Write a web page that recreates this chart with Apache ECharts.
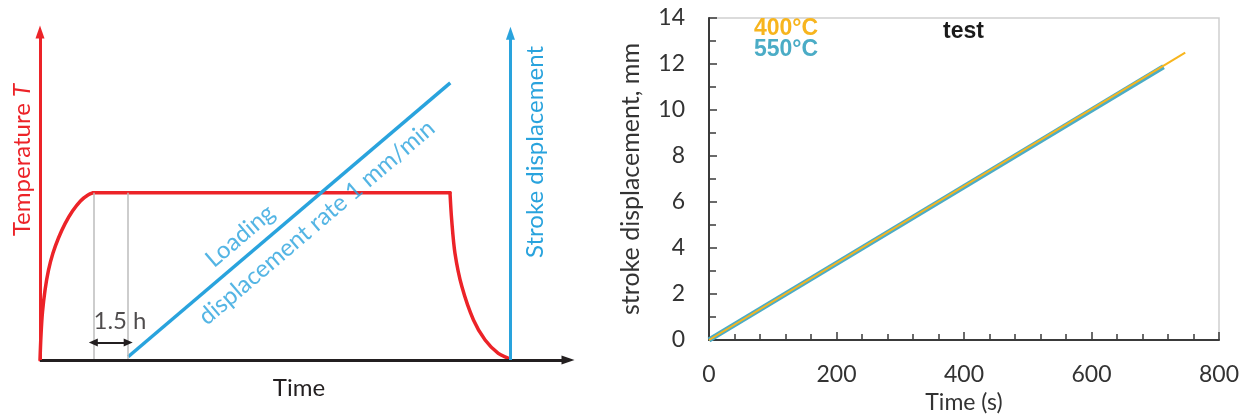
<!DOCTYPE html>
<html><head><meta charset="utf-8">
<script src="https://cdn.jsdelivr.net/npm/echarts@6/dist/echarts.min.js"></script>
<style>html,body{margin:0;padding:0;background:#fff}#c{width:1247px;height:419px}</style>
</head><body><div id="c"></div>
<script>
// ---------- Right chart: measured stroke displacement ----------
const time400 = [0, 747];
const disp400 = [0, 12.49];
const time550 = [0, 713];
const disp550 = [0, 11.88];
const seriesNames = ['400°C', '550°C'];
const xTickMax = 800, xTickStep = 200;
const yTickMax = 14, yTickStep = 2;

// ---------- Left schematic (arbitrary units 0-100) ----------
const heatTime  = [0, 0.19, 0.47, 0.95, 1.61, 2.46, 3.5, 4.73, 6.16, 7.67, 9.09, 10.1];
const heatLevel = [0, 7.6, 14.6, 21.3, 27.4, 32.6, 37.2, 41.5, 45.4, 48.5, 50.3, 51];
const holdTime  = [10.1, 77.65];
const holdLevel = [51, 51];
const coolTime  = [77.65, 77.97, 78.6, 79.9, 82.1, 84.3, 86.8, 88.7, 89.1];
const coolLevel = [51, 42.7, 32.5, 22.4, 12.2, 6.1, 2.0, 0.5, 0];
const loadTime = [16.7, 77.7];
const loadDisp = [1, 84.5];
const holdStart = 10.1, holdEnd = 16.7, plateau = 51, holdArrowY = 5.3;
const strokeAxisX = 89.1;
const annTexts = ['Loading', 'displacement rate 1 mm/min', '1.5 h'];
const annX = [37.9, 52.4, 15.15];
const annY = [37.8, 41.9, 11.7];

const RED = '#EC2328', BLUE = '#29A3DD', DARK = '#231F20';
const ORANGE = '#F7B51E', TEAL = '#4BACC6';

const zip = (a, b) => a.map((v, i) => [v, b[i]]);
const seg = (p, q, color, width, endSym, startSym) => [
  { coord: p, symbol: startSym || 'none', lineStyle: { color, width, type: 'solid' } },
  { coord: q, symbol: endSym || 'none' }
];
const redLine = (name, data, smooth) => ({
  name, type: 'line', xAxisIndex: 0, yAxisIndex: 0, data, showSymbol: false,
  smooth, silent: true, z: 3,
  lineStyle: { color: RED, width: 3.5, cap: 'round', join: 'round' }
});

const chart = echarts.init(document.getElementById('c'), null, { renderer: 'canvas' });
chart.setOption({
  animation: false,
  backgroundColor: '#fff',
  title: {
    text: 'test', left: 943, top: 20, padding: 0,
    textStyle: { fontFamily: 'Liberation Sans', fontWeight: 'bold', fontSize: 23, color: '#1a1a1a' }
  },
  legend: {
    left: 749, top: 17, orient: 'vertical', padding: 0, itemGap: -2,
    itemWidth: 0, itemHeight: 0, icon: 'none', selectedMode: false,
    data: [
      { name: seriesNames[0], textStyle: { color: ORANGE } },
      { name: seriesNames[1], textStyle: { color: TEAL } }
    ],
    textStyle: { fontFamily: 'Liberation Sans', fontWeight: 'bold', fontSize: 23, padding: 0 }
  },
  grid: [
    { left: 40, top: 32, width: 528, height: 328 },
    { left: 709, top: 18, width: 510, height: 322, show: true, borderColor: '#cfcfcf', borderWidth: 1.5 }
  ],
  xAxis: [
    { gridIndex: 0, type: 'value', min: 0, max: 100, show: false },
    {
      gridIndex: 1, type: 'value', min: 0, max: xTickMax, interval: xTickStep,
      axisLine: { show: true, lineStyle: { color: '#3a3a3a', width: 2 } },
      axisTick: { show: true, inside: true, length: 8, lineStyle: { color: '#3a3a3a', width: 1.5 } },
      minorTick: { show: true, splitNumber: 5, length: 6, lineStyle: { color: '#3a3a3a', width: 1.5 } },
      splitLine: { show: false },
      axisLabel: { fontFamily: 'Lato', fontSize: 23, color: '#333', margin: 23 },
      name: 'Time (s)', nameLocation: 'middle', nameGap: 48,
      nameTextStyle: { fontFamily: 'Lato', fontSize: 23, color: '#333' }
    }
  ],
  yAxis: [
    { gridIndex: 0, type: 'value', min: 0, max: 100, show: false },
    {
      gridIndex: 1, type: 'value', min: 0, max: yTickMax, interval: yTickStep,
      axisLine: { show: true, lineStyle: { color: '#3a3a3a', width: 2 } },
      axisTick: { show: true, inside: true, length: 8, lineStyle: { color: '#3a3a3a', width: 1.5 } },
      minorTick: { show: true, splitNumber: 2, length: 7, lineStyle: { color: '#3a3a3a', width: 1.5 } },
      splitLine: { show: false },
      axisLabel: { fontFamily: 'Lato', fontSize: 23, color: '#333', margin: 24 },
      name: 'stroke displacement, mm', nameLocation: 'middle', nameGap: 66, nameRotate: 90,
      nameTextStyle: { fontFamily: 'Lato', fontSize: 25, color: '#333' }
    }
  ],
  series: [
    {
      name: 'schematic-axes', type: 'line', xAxisIndex: 0, yAxisIndex: 0, data: [],
      silent: true, z: 1,
      markLine: {
        silent: true, animation: false, symbolSize: [9, 13],
        label: { show: false }, emphasis: { disabled: true },
        data: [
          seg([holdStart, 0], [holdStart, plateau], '#bdbdbd', 1.5),
          seg([holdEnd, 0], [holdEnd, plateau], '#bdbdbd', 1.5),
          seg([0, 0], [100, 0], DARK, 3, 'triangle'),
          seg([0, 0], [0, 100], RED, 3, 'triangle'),
          seg([strokeAxisX, 0], [strokeAxisX, 99.6], BLUE, 3, 'triangle')
        ]
      }
    },
    {
      name: 'hold-arrow', type: 'line', xAxisIndex: 0, yAxisIndex: 0, data: [],
      silent: true, z: 2,
      markLine: {
        silent: true, animation: false, symbolSize: [8, 9],
        label: { show: false }, emphasis: { disabled: true },
        data: [ seg([holdStart, holdArrowY], [holdEnd, holdArrowY], DARK, 2, 'triangle', 'triangle') ]
      }
    },
    redLine('Heating', zip(heatTime, heatLevel), 0.3),
    redLine('Holding', zip(holdTime, holdLevel), false),
    redLine('Cooling', zip(coolTime, coolLevel), 0.3),
    {
      name: 'Loading', type: 'line', xAxisIndex: 0, yAxisIndex: 0,
      data: zip(loadTime, loadDisp), showSymbol: false, silent: true, z: 3,
      lineStyle: { color: BLUE, width: 3.5 }
    },
    {
      name: 'annotations', type: 'scatter', xAxisIndex: 0, yAxisIndex: 0, symbolSize: 0, silent: true, z: 4,
      data: annTexts.map((t, i) => ({
        value: [annX[i], annY[i]],
        label: {
          show: true, position: 'inside', formatter: t,
          rotate: i < 2 ? 40.4 : 0,
          color: i < 2 ? BLUE : DARK,
          fontFamily: 'Lato', fontSize: 24
        }
      }))
    },
    {
      name: seriesNames[1], type: 'line', xAxisIndex: 1, yAxisIndex: 1,
      data: zip(time550, disp550), showSymbol: false, silent: true, z: 3,
      color: TEAL, lineStyle: { color: TEAL, width: 5 }
    },
    {
      name: seriesNames[0], type: 'line', xAxisIndex: 1, yAxisIndex: 1,
      data: zip(time400, disp400), showSymbol: false, silent: true, z: 4,
      color: ORANGE, lineStyle: { color: ORANGE, width: 2 }
    }
  ],
  graphic: [
    { type: 'text', x: 22, y: 160, rotation: Math.PI / 2, silent: true,
      style: { text: 'Temperature {i|T}', align: 'center', verticalAlign: 'middle',
        font: '24px Lato', fill: RED,
        rich: { i: { fontStyle: 'italic', fontFamily: 'Lato', fontSize: 24, fill: RED, color: RED } } } },
    { type: 'text', x: 535, y: 152, rotation: Math.PI / 2, silent: true,
      style: { text: 'Stroke displacement', align: 'center', verticalAlign: 'middle',
        font: '24px Lato', fill: BLUE } },
    { type: 'text', x: 299, y: 388, silent: true,
      style: { text: 'Time', align: 'center', verticalAlign: 'middle',
        font: '24px Lato', fill: DARK } }
  ]
});
</script>
</body></html>
